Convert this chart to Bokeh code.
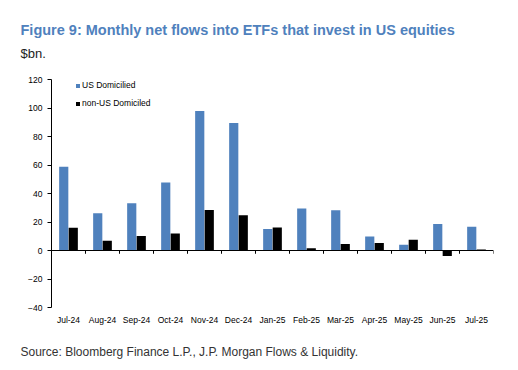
from bokeh.plotting import figure
from bokeh.models import Range1d, FixedTicker, Span, Legend, LegendItem, Title
from bokeh.embed import file_html
from bokeh.resources import INLINE

months = ["Jul-24", "Aug-24", "Sep-24", "Oct-24", "Nov-24", "Dec-24", "Jan-25",
          "Feb-25", "Mar-25", "Apr-25", "May-25", "Jun-25", "Jul-25"]
us_domiciled = [58.7, 26.1, 33.2, 47.8, 97.9, 89.4, 15.1, 29.4, 28.2, 9.9, 4.0, 18.6, 16.7]
non_us_domiciled = [16.0, 6.8, 10.1, 12.0, 28.5, 24.7, 16.2, 1.6, 4.5, 5.2, 7.5, -3.8, 0.7]
y_ticks = [-40, -20, 0, 20, 40, 60, 80, 100, 120]

FONT = "Liberation Sans"
n = len(months)
centers = [i + 0.5 for i in range(n)]
bw = 0.27

p = figure(frame_width=442, frame_height=228, output_backend="svg", toolbar_location=None,
           title=None, x_range=Range1d(0, n), y_range=Range1d(-40, 120),
           min_border_left=51, min_border_right=9, min_border_top=79, min_border_bottom=0)
p.outline_line_color = None
p.xgrid.visible = False
p.ygrid.visible = False

r_us = p.vbar(x=[c - 0.14 for c in centers], top=us_domiciled, width=bw,
              fill_color="#4F81BD", line_color=None)
r_non = p.vbar(x=[c + 0.14 for c in centers], top=non_us_domiciled, width=bw,
               fill_color="#000000", line_color=None)

p.add_layout(Span(location=0, dimension="width", line_color="#000000", line_width=1))
p.segment(x0=list(range(n + 1)), y0=[0] * (n + 1), x1=list(range(n + 1)),
          y1=[-2.3] * (n + 1), line_color="#000000", line_width=1)

xa = p.xaxis[0]
xa.ticker = FixedTicker(ticks=centers)
xa.major_label_overrides = {c: m for c, m in zip(centers, months)}
xa.axis_line_color = None
xa.major_tick_line_color = None
xa.major_tick_out = 0
xa.major_tick_in = 0
xa.minor_tick_line_color = None
xa.minor_tick_out = 0
xa.major_label_standoff = 7
xa.major_label_text_font = FONT
xa.major_label_text_font_size = "8.5px"
xa.major_label_text_color = "#000000"

ya = p.yaxis[0]
ya.ticker = FixedTicker(ticks=y_ticks)
ya.axis_line_color = "#000000"
ya.major_tick_line_color = "#000000"
ya.major_tick_out = 4
ya.major_tick_in = 0
ya.minor_tick_line_color = None
ya.major_label_standoff = 5
ya.major_label_text_font = FONT
ya.major_label_text_font_size = "8.5px"
ya.major_label_text_color = "#000000"

legend = Legend(items=[LegendItem(label="US Domicilied", renderers=[r_us]),
                       LegendItem(label="non-US Domiciled", renderers=[r_non])],
                location=(24, 199), orientation="vertical",
                glyph_width=5, glyph_height=5, label_height=10, spacing=8,
                label_standoff=2, padding=0, margin=0,
                border_line_color=None, background_fill_alpha=0,
                label_text_font=FONT, label_text_font_size="8.5px",
                label_text_color="#000000")
p.add_layout(legend, "center")

p.add_layout(Title(text="$bn.", align="left", offset=-31, standoff=38,
                   text_font=FONT, text_font_size="13px", text_font_style="normal",
                   text_color="#222222"), "above")
p.add_layout(Title(text="Figure 9: Monthly net flows into ETFs that invest in US equities",
                   align="left", offset=-31, standoff=-26,
                   text_font=FONT, text_font_style="bold",
                   text_font_size="14.5px", text_color="#4F81BD"), "above")
p.add_layout(Title(text="Source: Bloomberg Finance L.P., J.P. Morgan Flows & Liquidity.",
                   align="left", offset=-31, standoff=30,
                   text_font=FONT, text_font_size="12px", text_font_style="normal",
                   text_color="#333333"), "below")

open("out.html", "w").write(file_html(p, INLINE))
